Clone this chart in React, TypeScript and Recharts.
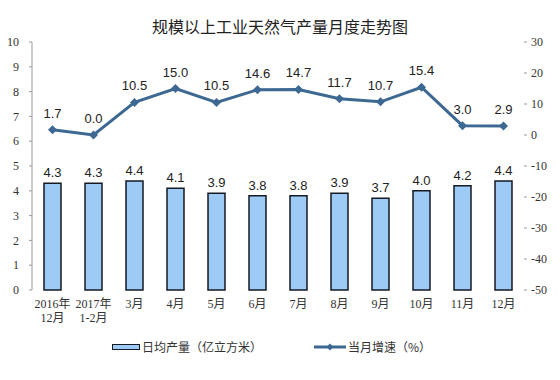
import React from 'react';
import {
  ComposedChart,
  Bar,
  Line,
  XAxis,
  YAxis,
  LabelList,
} from 'recharts';

const MONTHS = ['2016年\n12月', '2017年\n1-2月', '3月', '4月', '5月', '6月', '7月', '8月', '9月', '10月', '11月', '12月'];
const DAILY_OUTPUT = [4.3, 4.3, 4.4, 4.1, 3.9, 3.8, 3.8, 3.9, 3.7, 4.0, 4.2, 4.4];
const MONTHLY_GROWTH = [1.7, 0.0, 10.5, 15.0, 10.5, 14.6, 14.7, 11.7, 10.7, 15.4, 3.0, 2.9];
const LEFT_TICKS = [0, 1, 2, 3, 4, 5, 6, 7, 8, 9, 10];
const RIGHT_TICKS = [-50, -40, -30, -20, -10, 0, 10, 20, 30];
const BOUNDARY_TICKS = [0, 1, 2, 3, 4, 5, 6, 7, 8, 9, 10, 11, 12];

const BAR_FILL = '#9ECBF5';
const BAR_STROKE = '#151a22';
const LINE_COLOR = '#3C6892';
const SERIF = '"Liberation Serif", "Noto Sans CJK SC", serif';
const SANS = '"Liberation Sans", Arial, "Noto Sans CJK SC", sans-serif';

const data = MONTHS.map((m, i) => ({
  month: m,
  idx: i + 0.5,
  output: DAILY_OUTPUT[i],
  growth: MONTHLY_GROWTH[i],
}));

const MonthTick = (props: any) => {
  const { x, y, payload } = props;
  const lines = String(payload.value).split('\n');
  return (
    <g transform={`translate(${x},${y})`}>
      {lines.map((l, i) => (
        <text
          key={i}
          x={0}
          y={i * 14}
          dy={10}
          textAnchor="middle"
          fill="#333"
          fontSize={12}
          fontFamily={SERIF}
        >
          {l}
        </text>
      ))}
    </g>
  );
};

const Diamond = (props: any) => {
  const { cx, cy } = props;
  if (cx == null || cy == null) return null;
  return <path d={`M${cx},${cy - 4.5}L${cx + 4.5},${cy}L${cx},${cy + 4.5}L${cx - 4.5},${cy}Z`} fill={LINE_COLOR} />;
};

const fmt = (v: any) => Number(v).toFixed(1);

export default function App() {
  return (
    <div style={{ position: 'absolute', left: 0, top: 0, width: 560, height: 380, background: '#fff' }}>
      <div
        style={{
          position: 'absolute',
          top: 14,
          left: 0,
          width: 560,
          textAlign: 'center',
          fontSize: 16,
          color: '#222',
          fontFamily: '"Noto Sans CJK SC", sans-serif',
        }}
      >
        规模以上工业天然气产量月度走势图
      </div>
      <ComposedChart
        width={560}
        height={380}
        data={data}
        margin={{ top: 42, right: 0, bottom: 50, left: 0 }}
      >
        <XAxis
          xAxisId="b"
          type="number"
          dataKey="idx"
          domain={[0, 12]}
          ticks={BOUNDARY_TICKS}
          tick={false}
          tickSize={4}
          tickLine={{ stroke: '#999' }}
          axisLine={{ stroke: '#999' }}
          height={0}
        />
        <XAxis
          dataKey="month"
          tick={<MonthTick />}
          tickLine={false}
          axisLine={false}
          interval={0}
          height={40}
        />
        <YAxis
          yAxisId="left"
          orientation="left"
          width={32}
          domain={[0, 10]}
          ticks={LEFT_TICKS}
          interval={0}
          tick={{ fontSize: 12, fill: '#333', fontFamily: SERIF }}
          tickSize={3}
          tickMargin={10}
          tickLine={{ stroke: '#999' }}
          axisLine={{ stroke: '#999' }}
        />
        <YAxis
          yAxisId="right"
          orientation="right"
          width={36}
          domain={[-50, 30]}
          ticks={RIGHT_TICKS}
          interval={0}
          tick={{ fontSize: 12, fill: '#333', fontFamily: SERIF }}
          tickSize={3}
          tickMargin={4}
          tickLine={{ stroke: '#999' }}
          axisLine={false}
        />
        <Bar
          yAxisId="left"
          dataKey="output"
          barSize={17}
          fill={BAR_FILL}
          stroke={BAR_STROKE}
          strokeWidth={1.5}
          isAnimationActive={false}
        >
          <LabelList
            dataKey="output"
            position="top"
            offset={6}
            formatter={fmt}
            style={{ fontSize: 13, fill: '#222', fontFamily: SANS }}
          />
        </Bar>
        <Line
          yAxisId="right"
          dataKey="growth"
          stroke={LINE_COLOR}
          strokeWidth={3}
          dot={<Diamond />}
          activeDot={false}
          isAnimationActive={false}
        >
          <LabelList
            dataKey="growth"
            position="top"
            offset={12}
            formatter={fmt}
            style={{ fontSize: 13, fill: '#222', fontFamily: SANS }}
          />
        </Line>
      </ComposedChart>
      <div
        style={{
          position: 'absolute',
          top: 338,
          left: 0,
          width: 560,
          height: 18,
          fontSize: 12,
          color: '#333',
          fontFamily: '"Noto Sans CJK SC", sans-serif',
        }}
      >
        <div style={{ position: 'absolute', left: 112, top: 6, width: 26, height: 4, background: BAR_FILL, border: `1.5px solid ${BAR_STROKE}` }} />
        <div style={{ position: 'absolute', left: 142, top: 0, lineHeight: '18px' }}>日均产量（亿立方米）</div>
        <svg style={{ position: 'absolute', left: 314, top: 4 }} width={32} height={10}>
          <line x1={0} y1={5} x2={32} y2={5} stroke={LINE_COLOR} strokeWidth={3} />
          <path d="M16,1.5L19.5,5L16,8.5L12.5,5Z" fill={LINE_COLOR} />
        </svg>
        <div style={{ position: 'absolute', left: 348, top: 0, lineHeight: '18px' }}>当月增速（%）</div>
      </div>
    </div>
  );
}
